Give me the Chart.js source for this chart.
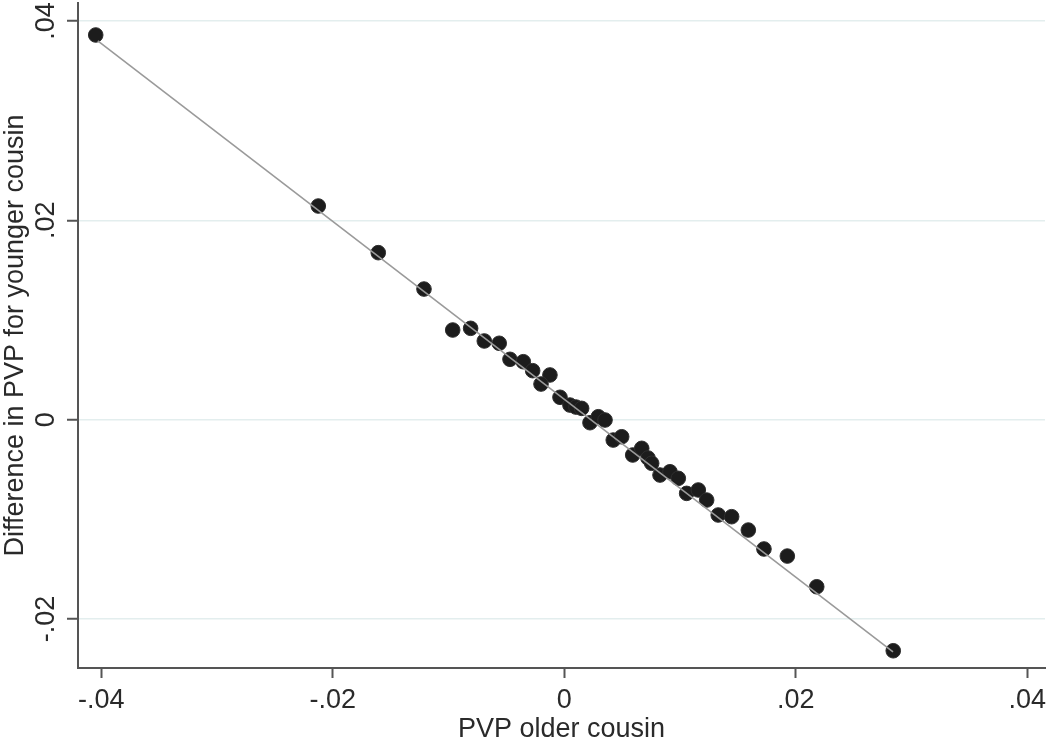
<!DOCTYPE html>
<html>
<head>
<meta charset="utf-8">
<script src="https://cdn.jsdelivr.net/npm/chart.js@4/dist/chart.umd.min.js"></script>
<style>
  html, body { margin: 0; padding: 0; background: #ffffff; }
  #wrap { width: 1047px; height: 743px; }
</style>
</head>
<body>
<div id="wrap"><canvas id="c" width="1047" height="743"></canvas></div>
<script>
// ---- data ----
const pvpOlder = [
  -0.04048, -0.02125, -0.01607, -0.01212, -0.00964, -0.00809, -0.00691, -0.00562,
  -0.00469, -0.00354, -0.00273, -0.00124, -0.00201, -0.00037, 0.00049, 0.00101,
  0.00150, 0.00222, 0.00294, 0.00352, 0.00423, 0.00496, 0.00591, 0.00669,
  0.00723, 0.00755, 0.00827, 0.00913, 0.00985, 0.01057, 0.01158, 0.01230,
  0.01330, 0.01446, 0.01590, 0.01725, 0.01927, 0.02181, 0.02842
];
const diffYounger = [
  0.03859, 0.02143, 0.01675, 0.01310, 0.00899, 0.00916, 0.00789, 0.00766,
  0.00605, 0.00581, 0.00491, 0.00448, 0.00357, 0.00224, 0.00146, 0.00126,
  0.00113, -0.00031, 0.00029, -0.00004, -0.00205, -0.00172, -0.00355, -0.00288,
  -0.00385, -0.00438, -0.00556, -0.00523, -0.00589, -0.00740, -0.00706, -0.00807,
  -0.00957, -0.00974, -0.01108, -0.01298, -0.01369, -0.01677, -0.02319
];
// fitted line end points
const fitX = [-0.0403, 0.0284];
const fitY = [0.0380, -0.0233];

const xTickValues = [-0.04, -0.02, 0, 0.02, 0.04];
const xTickLabels = ['-.04', '-.02', '0', '.02', '.04'];
const yTickValues = [-0.02, 0, 0.02, 0.04];
const yTickLabels = ['-.02', '0', '.02', '.04'];

const xTitle = 'PVP older cousin';
const yTitle = 'Difference in PVP for younger cousin';

// ---- build chart ----
const points = pvpOlder.map((x, i) => ({ x: x, y: diffYounger[i] }));
const fitLine = fitX.map((x, i) => ({ x: x, y: fitY[i] }));

const FONT = "'Liberation Sans', Arial, Helvetica, sans-serif";
const TEXT = '#2a2a2a';
const AXIS = '#555555';

function labelFor(values, labels) {
  return function (v) {
    for (let i = 0; i < values.length; i++) {
      if (Math.abs(values[i] - v) < 1e-9) return labels[i];
    }
    return '';
  };
}

new Chart(document.getElementById('c'), {
  type: 'scatter',
  data: {
    datasets: [
      {
        type: 'line',
        label: 'fit',
        data: fitLine,
        borderColor: '#9a9a9a',
        borderWidth: 1.6,
        pointRadius: 0,
        fill: false,
        tension: 0
      },
      {
        type: 'scatter',
        label: 'obs',
        data: points,
        backgroundColor: '#1c1c1c',
        borderColor: '#2e2e2e',
        borderWidth: 1,
        pointRadius: 7.3,
        pointHoverRadius: 7.3
      }
    ]
  },
  options: {
    responsive: false,
    animation: false,
    devicePixelRatio: 1,
    layout: { autoPadding: false, padding: { left: 0, right: 2, top: 3, bottom: 0 } },
    plugins: {
      legend: { display: false },
      tooltip: { enabled: false }
    },
    scales: {
      x: {
        type: 'linear',
        position: 'bottom',
        min: -0.04201,
        max: 0.04153,
        afterBuildTicks: (s) => { s.ticks = xTickValues.map(v => ({ value: v })); },
        afterFit: (s) => { s.height = 75; s.paddingLeft = 0; s.paddingRight = 0; },
        ticks: {
          callback: labelFor(xTickValues, xTickLabels),
          font: { family: FONT, size: 27, lineHeight: 1 },
          color: TEXT,
          padding: 9,
          maxRotation: 0,
          minRotation: 0,
          autoSkip: false
        },
        grid: {
          drawOnChartArea: false,
          drawTicks: true,
          tickLength: 10,
          tickWidth: 2,
          tickColor: AXIS
        },
        border: { display: true, color: AXIS, width: 2 },
        title: {
          display: true,
          text: xTitle,
          font: { family: FONT, size: 27, lineHeight: 1 },
          color: TEXT,
          padding: { top: 0, bottom: 0 }
        }
      },
      y: {
        type: 'linear',
        position: 'left',
        min: -0.02492,
        max: 0.04180,
        afterBuildTicks: (s) => { s.ticks = yTickValues.map(v => ({ value: v })); },
        afterFit: (s) => { s.width = 78; s.paddingTop = 0; s.paddingBottom = 0; },
        ticks: {
          callback: labelFor(yTickValues, yTickLabels),
          font: { family: FONT, size: 27, lineHeight: 1 },
          color: TEXT,
          padding: -3,
          minRotation: 90,
          maxRotation: 90,
          crossAlign: 'center',
          autoSkip: false
        },
        grid: {
          drawOnChartArea: true,
          color: '#e3eeee',
          lineWidth: 1.5,
          drawTicks: true,
          tickLength: 11,
          tickWidth: 2,
          tickColor: AXIS
        },
        border: { display: true, color: AXIS, width: 2 },
        title: {
          display: true,
          text: yTitle,
          font: { family: FONT, size: 27, lineHeight: 1 },
          color: TEXT,
          padding: { top: 2, bottom: 0 }
        }
      }
    }
  }
});
</script>
</body>
</html>
